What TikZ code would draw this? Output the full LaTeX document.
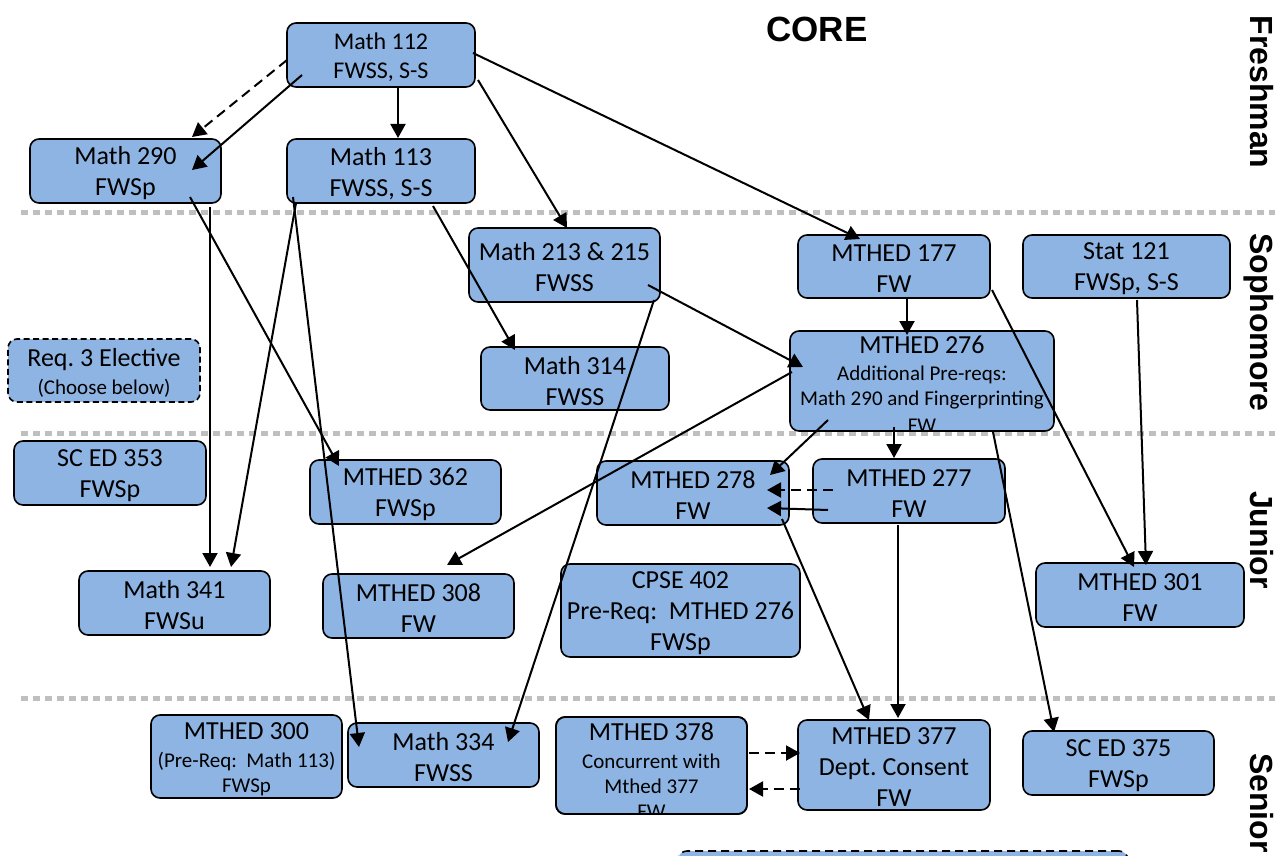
\documentclass[tikz,border=0pt]{standalone}
\usepackage{fontspec}
\setmainfont{Carlito}
\newfontfamily\hdfont{Liberation Sans}
\usetikzlibrary{arrows.meta}
\definecolor{boxblue}{RGB}{142,180,227}
\definecolor{sepgray}{RGB}{191,191,191}
\frenchspacing
\begin{document}
\begin{tikzpicture}[x=1pt,y=-1pt,
  box/.style={draw=black,line width=1.6pt,rounded corners=9pt,fill=boxblue,inner sep=0pt,outer sep=0pt},
  dbox/.style={box,dash pattern=on 6pt off 3.5pt},
  lbl/.style={align=center,inner sep=0pt,yshift=-2.5pt,font=\fontsize{26}{31}\selectfont},
  slbl/.style={align=center,inner sep=0pt,yshift=-2.5pt,font=\fontsize{21}{25}\selectfont},
  arr/.style={line width=2pt,-{Triangle[length=14pt,width=15pt]}},
  darr/.style={arr,dash pattern=on 10pt off 6pt},
  sepline/.style={line width=5pt,sepgray,dash pattern=on 7pt off 5pt},
  yr/.style={font=\hdfont\bfseries\fontsize{32}{38}\selectfont,rotate=-90,anchor=base,inner sep=0pt}]
\clip (0,0) rectangle (1275,856);
\fill[white] (0,0) rectangle (1275,856);
% separators
\draw[sepline] (21,212) -- (1275,212);
\draw[sepline] (21,433) -- (1275,433);
\draw[sepline] (21,698) -- (1275,698);
% title and year labels
\node[font=\hdfont\bfseries\fontsize{35}{42}\selectfont,inner sep=0pt] (core) at (817,29) {CORE};
\node[yr] (fr) at (1250,92) {Freshman};
\node[yr] (so) at (1250,322) {Sophomore};
\node[yr] (jr) at (1250,540) {Junior};
\node[yr] (sr) at (1250,803) {Senior};
% boxes
\node[box,minimum width=188pt,minimum height=64pt] (m112) at (381,55) {};
\node[box,minimum width=191pt,minimum height=64pt] (m290) at (125.5,171) {};
\node[box,minimum width=188pt,minimum height=64pt] (m113) at (381,171) {};
\node[box,minimum width=191pt,minimum height=74pt] (m213) at (564.5,265) {};
\node[box,minimum width=192pt,minimum height=63pt] (mt177) at (894,266.5) {};
\node[box,minimum width=207pt,minimum height=63pt] (st121) at (1126.5,266.5) {};
\node[box,minimum width=264pt,minimum height=100pt] (mt276) at (922,381) {};
\node[dbox,minimum width=192pt,minimum height=63pt] (req3) at (104,370.5) {};
\node[box,minimum width=188pt,minimum height=63pt] (m314) at (575,378.5) {};
\node[box,minimum width=192pt,minimum height=64pt] (sc353) at (110,473) {};
\node[box,minimum width=191pt,minimum height=64pt] (mt362) at (405.5,492) {};
\node[box,minimum width=192pt,minimum height=64pt] (mt278) at (693,493) {};
\node[box,minimum width=192pt,minimum height=64pt] (mt277) at (909,491) {};
\node[box,minimum width=191pt,minimum height=64pt] (m341) at (174.5,603) {};
\node[box,minimum width=191pt,minimum height=64pt] (mt308) at (418.5,606) {};
\node[box,minimum width=239pt,minimum height=93pt] (cp402) at (680.5,610.5) {};
\node[box,minimum width=208pt,minimum height=64pt] (mt301) at (1140,595) {};
\node[box,minimum width=191pt,minimum height=83pt] (mt300) at (246.5,756.5) {};
\node[box,minimum width=191pt,minimum height=64pt] (m334) at (443.5,755) {};
\node[box,minimum width=191pt,minimum height=97pt] (mt378) at (651.5,765.5) {};
\node[box,minimum width=192pt,minimum height=90pt] (mt377) at (894,765) {};
\node[box,minimum width=191pt,minimum height=64pt] (sc375) at (1118.5,763) {};
\node[box,dash pattern=on 8pt off 5pt,minimum width=450pt,minimum height=60pt] (extra) at (903,881) {};
% box texts
\node[lbl,font=\fontsize{24}{29}\selectfont] (m112t) at (m112.center) {Math 112\\FWSS, S-S};
\node[lbl] (m290t) at (m290.center) {Math 290\\FWSp};
\node[lbl] (m113t) at (m113.center) {Math 113\\FWSS, S-S};
\node[lbl] (m213t) at (m213.center) {Math 213 \& 215\\FWSS};
\node[lbl] (mt177t) at (mt177.center) {MTHED 177\\FW};
\node[lbl] (st121t) at (st121.center) {Stat 121\\FWSp, S-S};
\node[slbl] (mt276t) at ([shift={(0,1)}]mt276.center) {{\fontsize{26}{31}\selectfont MTHED 276}\\[2pt]Additional Pre-reqs:\\Math 290 and Fingerprinting\\[2pt]FW};
\node[slbl] (req3t) at (req3.center) {{\fontsize{26}{31}\selectfont Req. 3 Elective}\\[3pt](Choose below)};
\node[lbl] (m314t) at (m314.center) {Math 314\\FWSS};
\node[lbl] (sc353t) at (sc353.center) {SC ED 353\\FWSp};
\node[lbl] (mt362t) at (mt362.center) {MTHED 362\\FWSp};
\node[lbl] (mt278t) at (mt278.center) {MTHED 278\\FW};
\node[lbl] (mt277t) at (mt277.center) {MTHED 277\\FW};
\node[lbl] (m341t) at (m341.center) {Math 341\\FWSu};
\node[lbl] (mt308t) at (mt308.center) {MTHED 308\\FW};
\node[lbl] (cp402t) at (cp402.center) {CPSE 402\\Pre-Req:\ \ MTHED 276\\FWSp};
\node[lbl] (mt301t) at (mt301.center) {MTHED 301\\FW};
\node[slbl] (mt300t) at (mt300.center) {{\fontsize{26}{31}\selectfont MTHED 300}\\[3pt](Pre-Req:\ \ Math 113)\\FWSp};
\node[lbl] (m334t) at (m334.center) {Math 334\\FWSS};
\begin{scope}
  \clip[rounded corners=9pt] (mt378.north west) rectangle (mt378.south east);
  \node[slbl] (mt378t) at ([shift={(0,3)}]mt378.center) {{\fontsize{26}{31}\selectfont MTHED 378}\\[3pt]Concurrent with\\Mthed 377\\FW};
\end{scope}
\draw[line width=1.6pt,rounded corners=9pt] (mt378.north west) rectangle (mt378.south east);
\node[lbl] (mt377t) at (mt377.center) {MTHED 377\\Dept. Consent\\FW};
\node[lbl] (sc375t) at (sc375.center) {SC ED 375\\FWSp};
% connectors
\draw[darr] ([shift={(-94,5)}]m112.center) -- ([shift={(66.5,-34)}]m290.center);
\draw[arr] ([shift={(-79,20)}]m112.center) -- ([shift={(66.5,-1)}]m290.center);
\draw[arr] ([shift={(17,32)}]m112.center) -- ([shift={(17,-33)}]m113.center);
\draw[arr] ([shift={(97,25)}]m112.center) -- ([shift={(2.5,-37)}]m213.center);
\draw[arr] ([shift={(92,-2)}]m112.center) -- ([shift={(-34,-27.5)}]mt177.center);
\draw[arr] ([shift={(64.5,26)}]m290.center) -- ([shift={(-66.5,-26)}]mt362.center);
\draw[arr] ([shift={(84.5,36)}]m290.center) -- ([shift={(35.5,-36)}]m341.center);
\draw[arr] ([shift={(-85,32)}]m113.center) -- ([shift={(56.5,-36)}]m341.center);
\draw[arr] ([shift={(-88,26)}]m113.center) -- ([shift={(-84.5,-8)}]m334.center);
\draw[arr] ([shift={(52,35)}]m113.center) -- ([shift={(-60,-28.5)}]m314.center);
\draw[arr] ([shift={(89.5,35)}]m213.center) -- ([shift={(64.5,-13)}]m334.center);
\draw[arr] ([shift={(83.5,20)}]m213.center) -- ([shift={(-119,-14)}]mt276.center);
\draw[arr] ([shift={(13,31.5)}]mt177.center) -- ([shift={(-15,-46)}]mt276.center);
\draw[arr] ([shift={(98,23.5)}]mt177.center) -- ([shift={(-6,-28)}]mt301.center);
\draw[arr] ([shift={(10.5,33.5)}]st121.center) -- ([shift={(6,-30)}]mt301.center);
\draw[arr] ([shift={(-130,-9)}]mt276.center) -- ([shift={(28.5,-41)}]mt308.center);
\draw[arr] ([shift={(-94,39)}]mt276.center) -- ([shift={(77,-18)}]mt278.center);
\draw[arr] ([shift={(-28,46)}]mt276.center) -- ([shift={(-15,-33)}]mt277.center);
\draw[darr] ([shift={(-76,-1)}]mt277.center) -- ([shift={(74,-3)}]mt278.center);
\draw[arr] ([shift={(-81,19)}]mt277.center) -- ([shift={(74,15)}]mt278.center);
\draw[arr] ([shift={(71,51)}]mt276.center) -- ([shift={(-64.5,-31)}]sc375.center);
\draw[arr] ([shift={(89,26)}]mt278.center) -- ([shift={(-25,-45)}]mt377.center);
\draw[arr] ([shift={(-11,34)}]mt277.center) -- ([shift={(4,-47)}]mt377.center);
\draw[darr] ([shift={(97.5,-12.5)}]mt378.center) -- ([shift={(-94,-12)}]mt377.center);
\draw[darr] ([shift={(-94,24)}]mt377.center) -- ([shift={(97.5,23.5)}]mt378.center);
\end{tikzpicture}
\end{document}
